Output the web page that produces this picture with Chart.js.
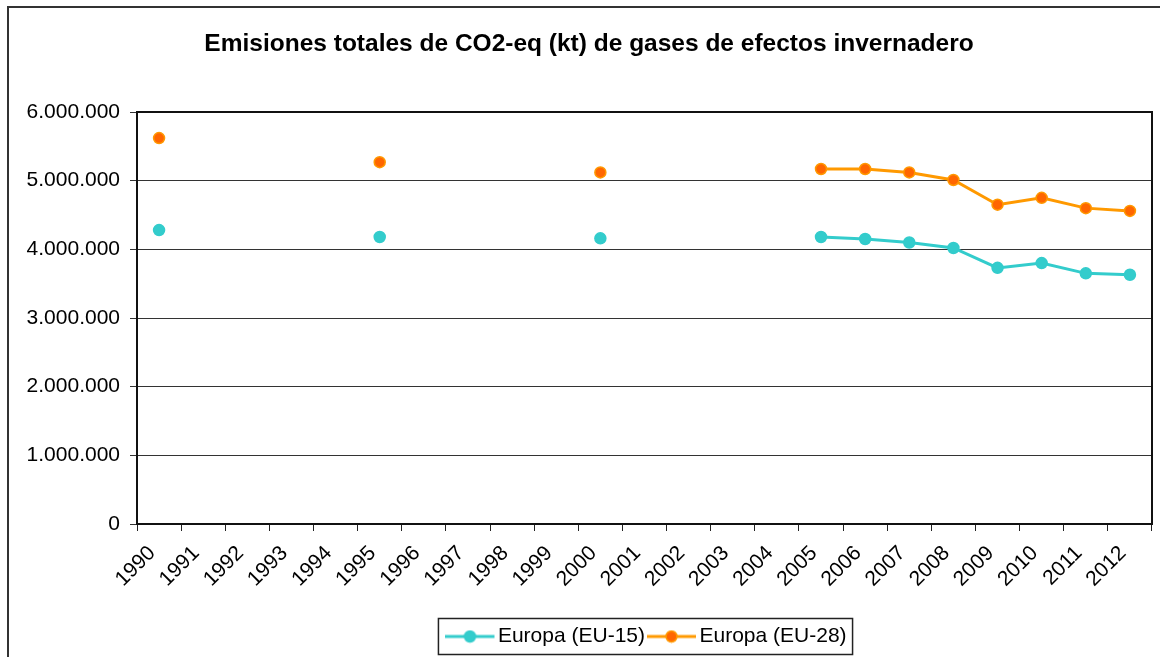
<!DOCTYPE html>
<html>
<head>
<meta charset="utf-8">
<script src="https://cdn.jsdelivr.net/npm/chart.js@4"></script>
<style>
  html, body { margin: 0; padding: 0; background: #fff; }
  #wrap { position: relative; width: 1160px; height: 657px; }
</style>
</head>
<body>
<div id="wrap"><canvas id="myChart" width="1160" height="657"></canvas></div>
<script>
var years = ["1990", "1991", "1992", "1993", "1994", "1995", "1996", "1997", "1998", "1999", "2000", "2001",
  "2002", "2003", "2004", "2005", "2006", "2007", "2008", "2009", "2010", "2011", "2012"];
var eu15 = [4280000, null, null, null, null, 4180000, null, null, null, null, 4160000, null,
  null, null, null, 4180000, 4150000, 4100000, 4020000, 3730000, 3800000, 3650000, 3630000];
var eu28 = [5620000, null, null, null, null, 5270000, null, null, null, null, 5120000, null,
  null, null, null, 5170000, 5170000, 5120000, 5010000, 4650000, 4750000, 4600000, 4560000];
var yTicks = [0, 1000000, 2000000, 3000000, 4000000, 5000000, 6000000];

var font = "Arial, 'Liberation Sans', sans-serif";

function legendSample(line, fill, edge) {
  var c = document.createElement("canvas");
  c.width = 54;
  c.height = 14;
  var g = c.getContext("2d");
  g.strokeStyle = line;
  g.lineWidth = 3;
  g.beginPath();
  g.moveTo(0, 7);
  g.lineTo(49, 7);
  g.stroke();
  g.beginPath();
  g.arc(24.5, 7, 5.5, 0, Math.PI * 2);
  g.fillStyle = fill;
  g.fill();
  g.lineWidth = 1.5;
  g.strokeStyle = edge;
  g.stroke();
  return c;
}

var samples = [legendSample("#33CCCC", "#33CCCC", "#33CCCC"), legendSample("#FF9900", "#FF6600", "#FF9900")];

// legend sits right of centre in the original
var legendShift = 63;

var frames = {
  id: "frames",
  afterUpdate: function (chart) {
    var lg = chart.legend;
    lg.left += legendShift;
    lg.right += legendShift;
    lg.legendHitBoxes.forEach(function (h) { h.left += legendShift; });
  },
  afterDraw: function (chart) {
    var ctx = chart.ctx;
    var a = chart.chartArea;
    ctx.save();
    ctx.strokeStyle = "#333";
    ctx.lineWidth = 2;
    ctx.beginPath();
    ctx.moveTo(8, 700);
    ctx.lineTo(8, 7);
    ctx.lineTo(1170, 7);
    ctx.stroke();

    ctx.strokeStyle = "#111";
    ctx.lineWidth = 2;
    ctx.strokeRect(a.left, a.top, a.right - a.left, a.bottom - a.top);

    var hb = chart.legend.legendHitBoxes;
    if (hb && hb.length) {
      var first = hb[0], last = hb[hb.length - 1];
      var cy = first.top + first.height / 2;
      var x1 = first.left - 12 - 7;
      var x2 = last.left + last.width + 6;
      ctx.lineWidth = 1.5;
      ctx.strokeStyle = "#222";
      ctx.strokeRect(x1, cy - 18, x2 - x1, 36);
    }
    ctx.restore();
  }
};

var config = {
  type: "line",
  data: {
    labels: years,
    datasets: [
      {
        label: "Europa (EU-15)",
        data: eu15,
        borderColor: "#33CCCC",
        backgroundColor: "#33CCCC",
        pointBackgroundColor: "#33CCCC",
        pointBorderColor: "#33CCCC",
        borderWidth: 3,
        pointRadius: 5.5,
        pointBorderWidth: 1.5,
        spanGaps: false,
        tension: 0
      },
      {
        label: "Europa (EU-28)",
        data: eu28,
        borderColor: "#FF9900",
        backgroundColor: "#FF6600",
        pointBackgroundColor: "#FF6600",
        pointBorderColor: "#FF9900",
        borderWidth: 3,
        pointRadius: 5.5,
        pointBorderWidth: 1.5,
        spanGaps: false,
        tension: 0
      }
    ]
  },
  options: {
    responsive: false,
    animation: false,
    layout: { padding: { left: 26, right: 8, top: 0, bottom: 0 } },
    plugins: {
      title: {
        display: true,
        text: "Emisiones totales de CO2-eq (kt) de gases de efectos invernadero",
        color: "#000",
        font: { family: font, size: 24.5, weight: "bold" },
        padding: { top: 30, bottom: 52.6 }
      },
      legend: {
        position: "bottom",
        labels: {
          color: "#000",
          font: { family: font, size: 21 },
          usePointStyle: true,
          pointStyleWidth: 30,
          padding: 14,
          generateLabels: function (chart) {
            return chart.data.datasets.map(function (ds, i) {
              return {
                text: ds.label,
                pointStyle: samples[i],
                datasetIndex: i,
                fillStyle: ds.backgroundColor,
                strokeStyle: ds.borderColor,
                lineWidth: 0,
                hidden: false
              };
            });
          }
        }
      },
      tooltip: { enabled: false }
    },
    scales: {
      x: {
        offset: true,
        grid: {
          offset: true,
          drawOnChartArea: false,
          drawTicks: true,
          tickLength: 7,
          color: "#222"
        },
        border: { color: "#111", width: 2 },
        ticks: {
          color: "#000",
          font: { family: font, size: 21 },
          autoSkip: false,
          maxRotation: 45,
          minRotation: 45,
          padding: 10,
          labelOffset: -7
        },
        afterFit: function (scale) { scale.height = 88; }
      },
      y: {
        min: 0,
        max: 6000000,
        afterBuildTicks: function (scale) {
          scale.ticks = yTicks.map(function (v) { return { value: v }; });
        },
        grid: {
          color: "#333",
          lineWidth: 1,
          drawTicks: true,
          tickLength: 7
        },
        border: { color: "#111", width: 2 },
        ticks: {
          color: "#000",
          font: { family: font, size: 21 },
          padding: 10,
          callback: function (v) {
            return String(v).replace(/\B(?=(\d{3})+(?!\d))/g, ".");
          }
        },
        afterFit: function (scale) { scale.width = 111; }
      }
    }
  },
  plugins: [frames]
};

var ctx = document.getElementById("myChart").getContext("2d");
var chart1 = new Chart(ctx, config);
</script>
</body>
</html>
